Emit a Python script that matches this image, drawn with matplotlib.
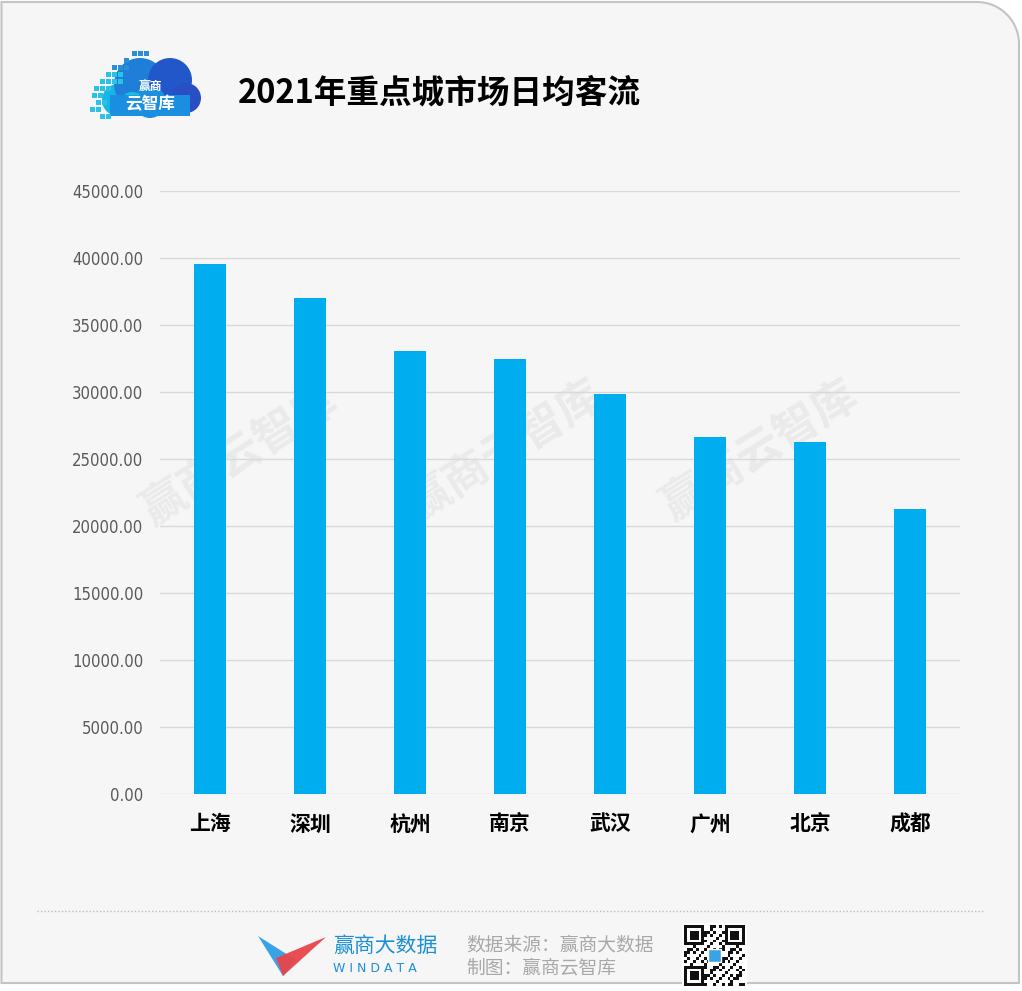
import matplotlib.pyplot as plt
import numpy as np
from matplotlib.patches import Circle, Rectangle, Polygon
from matplotlib import font_manager

plt.rcParams['font.family'] = ['Noto Sans CJK SC', 'DejaVu Sans']

# Data
cities = ['上海', '深圳', '杭州', '南京', '武汉', '广州', '北京', '成都']
daily_flow = [39550, 37020, 33060, 32460, 29850, 26650, 26270, 21280]
y_ticks = [0, 5000, 10000, 15000, 20000, 25000, 30000, 35000, 40000, 45000]

title = '2021年重点城市场日均客流'
bg = '#f6f6f6'
bar_color = '#00aeef'

W, H = 1022, 991
fig = plt.figure(figsize=(W / 100, H / 100), dpi=100)
fig.patch.set_facecolor('white')

# decoration layer in pixel coordinates (y down)
deco = fig.add_axes([0, 0, 1, 1], zorder=0)
deco.set_xlim(0, W)
deco.set_ylim(H, 0)
deco.axis('off')

# card frame with rounded top-right corner
r = 42
theta = np.linspace(np.pi / 2, 0, 20)
arc = [(1019 - r + r * np.cos(t), 2 + r - r * np.sin(t)) for t in theta]
verts = [(1.5, 983), (1.5, 2)] + arc + [(1019, 983), (1.5, 983)]
deco.add_patch(Polygon(verts, closed=True, facecolor=bg, edgecolor='#c4c4c4', lw=1.5))

# watermarks
for cx, cy in [(240, 455), (505, 450), (760, 450)]:
    deco.text(cx, cy, '赢商云智库', fontsize=32, fontweight='bold', color='#eaeaea',
              rotation=32, ha='center', va='center')

# top-left cloud logo
for (cx, cy, rr, c) in [(118, 100, 16, '#17b6e6'), (140, 84, 26, '#1f7fd8'),
                        (170, 80, 22, '#2257c9'), (186, 98, 15, '#2a4fc4'),
                        (150, 102, 16, '#1e8fdc'), (132, 104, 12, '#12c2e8')]:
    deco.add_patch(Circle((cx, cy), rr, facecolor=c, edgecolor='none'))
deco.add_patch(Rectangle((110, 95), 80, 21, facecolor='#1a8ee0', edgecolor='none'))
squares = [(132, 51), (138, 51), (144, 51), (124, 58), (112, 65), (118, 65), (124, 65),
           (106, 72), (112, 72), (118, 72), (100, 79), (106, 79), (112, 79), (118, 79),
           (94, 86), (100, 86), (106, 86), (92, 93), (98, 93), (96, 100), (102, 100),
           (90, 107), (96, 107), (100, 114), (106, 114)]
for sx, sy in squares:
    col = '#2a8fd6' if sy < 70 else '#29c3e6'
    deco.add_patch(Rectangle((sx, sy), 5, 5, facecolor=col, edgecolor='none'))
deco.text(150, 86, '赢商', fontsize=8.5, fontweight='bold', color='white',
          ha='center', va='center')
deco.text(150, 104, '云智库', fontsize=12, fontweight='bold', color='white',
          ha='center', va='center', style='italic')

deco.text(238, 93, title, fontsize=23.5, fontweight='bold', color='black',
          ha='left', va='center')

# footer
deco.plot([37, 985], [911, 911], color='#bdbdbd', lw=1, ls=(0, (1, 1.5)))
deco.add_patch(Polygon([(258, 936), (296, 960), (283, 976)], closed=True,
                       facecolor='#3aa3e6', edgecolor='none'))
deco.add_patch(Polygon([(326, 937), (283, 976), (276, 958)], closed=True,
                       facecolor='#e8454b', edgecolor='none', alpha=0.95))
deco.text(333, 946, '赢商大数据', fontsize=15, color='#1a8fd6', ha='left', va='center')
deco.text(333, 969, 'W I N D A T A', fontsize=9, color='#1a8fd6', ha='left', va='center',
          family='DejaVu Sans')
deco.text(466, 945, '数据来源：赢商大数据', fontsize=13.5, color='#a8a8a8', ha='left', va='center')
deco.text(466, 968, '制图：赢商云智库', fontsize=13.5, color='#a8a8a8', ha='left', va='center')

# qr-like badge
qx, qy, qs = 684, 925, 61
deco.add_patch(Rectangle((qx - 2, qy - 2), qs + 4, qs + 4, facecolor='white', edgecolor='none'))
n = 21
cell = qs / n
for i in range(n):
    for j in range(n):
        in_finder = (i < 7 and j < 7) or (i < 7 and j >= n - 7) or (i >= n - 7 and j < 7)
        if in_finder:
            a = i if i < 7 else i - (n - 7)
            b = j if j < 7 else j - (n - 7)
            on = a in (0, 6) or b in (0, 6) or (2 <= a <= 4 and 2 <= b <= 4)
        else:
            on = (i * j + i + 2 * j) % 3 == 0 or (i + j) % 5 == 0
        if on:
            deco.add_patch(Rectangle((qx + j * cell, qy + i * cell), cell, cell,
                                     facecolor='#111111', edgecolor='none'))
deco.add_patch(Rectangle((qx + 24, qy + 24), 13, 13, facecolor='#3aa3e6', edgecolor='white', lw=1))

# condensed font for the value axis
names = {f.name for f in font_manager.fontManager.ttflist}
if 'Liberation Sans Narrow' in names:
    tick_font = dict(family='Liberation Sans Narrow', fontsize=13)
else:
    tick_font = dict(family='DejaVu Sans', stretch='condensed', fontsize=12)

# main chart
ax = fig.add_axes([160 / W, 1 - 794 / H, 800 / W, 603 / H], zorder=1)
ax.set_facecolor('none')
x = np.arange(len(cities))
ax.bar(x, daily_flow, width=0.32, color=bar_color, zorder=3)
ax.set_xlim(-0.5, len(cities) - 0.5)
ax.set_ylim(0, 45000)
ax.set_yticks(y_ticks)
ax.set_yticklabels([f'{v:.2f}' for v in y_ticks], color='#5a5a5a', **tick_font)
ax.set_xticks(x)
ax.set_xticklabels(cities, fontsize=15, fontweight='bold', color='black')
ax.tick_params(axis='both', length=0)
ax.tick_params(axis='y', pad=12)
ax.tick_params(axis='x', pad=14)
ax.yaxis.grid(True, color='#d9d9d9', lw=1)
ax.set_axisbelow(True)
for s in ax.spines.values():
    s.set_visible(False)

fig.savefig('out.png', dpi=100, facecolor=fig.get_facecolor())
